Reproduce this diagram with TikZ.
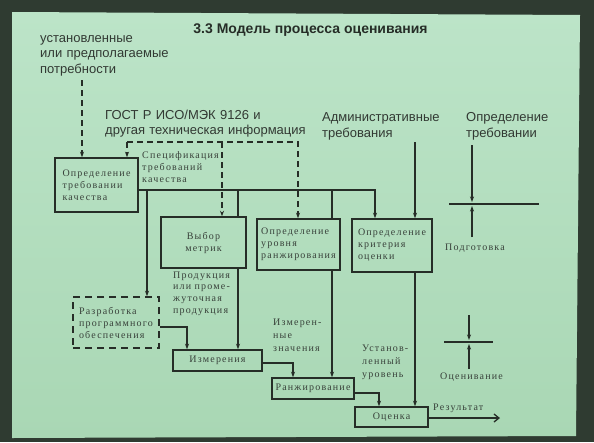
\documentclass[tikz,border=0pt]{standalone}
\usepackage{fontspec}
\setmainfont{Liberation Sans}
\newfontfamily\boxfont[LetterSpace=12]{Liberation Serif}
\usetikzlibrary{arrows.meta}
\definecolor{frame}{HTML}{2F3B31}
\definecolor{slidetop}{HTML}{BCE4C8}
\definecolor{slidebot}{HTML}{A9D7B4}
\definecolor{ink}{HTML}{262D27}
\definecolor{txt}{HTML}{323933}
\definecolor{btxt}{HTML}{38413A}
\begin{document}
\begin{tikzpicture}[x=1pt,y=-1pt,
  procbox/.style={draw=ink,line width=1.5pt,inner sep=2pt,text=btxt,font=\boxfont\fontsize{10}{12}\selectfont},
  lbl/.style={font=\fontsize{13}{15.5}\selectfont,text=txt,align=left,inner sep=0pt,anchor=base west},
  small/.style={font=\boxfont\fontsize{10}{12}\selectfont,text=btxt,align=left,inner sep=0pt,anchor=base west},
  conn/.style={draw=ink,line width=1.3pt},
  arr/.style={conn,-{Stealth[length=5.5pt,width=4pt]}},
  darr/.style={arr,dash pattern=on 6pt off 4pt},
  resarr/.style={conn,-{Straight Barb[length=5pt,width=8pt]}},
  crossln/.style={draw=ink,line width=1.4pt}
]
\useasboundingbox (0,0) rectangle (594,442);
\fill[frame] (0,0) rectangle (594,442);
\shade[top color=slidetop,bottom color=slidebot] (12,12) -- (580,15) -- (576,436) -- (12,438) -- cycle;

% title and outer labels
\node[anchor=base,font=\fontsize{14}{16}\selectfont\bfseries,text=ink,inner sep=0pt] (title) at (310.5,33) {3.3 Модель процесса оценивания};
\node[lbl,text width=170pt] (needs) at (40,42) {установленные\\или предполагаемые\\потребности};
\node[lbl,text width=230pt] (gost) at (105,119) {ГОСТ Р ИСО/МЭК 9126 и\\другая техническая информация};
\node[lbl,text width=130pt] (admin) at (322,121.5) {Административные\\требования};
\node[lbl,text width=100pt] (reqdef) at (466,121.5) {Определение\\требовании};

% process boxes
\node[procbox,minimum width=83pt,minimum height=54pt,align=left] (b1) at (96.5,185) {Определение\\требовании\\качества};
\node[procbox,minimum width=85pt,minimum height=51pt,align=center] (metr) at (203.5,242.5) {Выбор\\метрик};
\node[procbox,minimum width=83pt,minimum height=51pt,align=left] (rdef) at (298.5,244.5) {Определение\\уровня\\ранжирования};
\node[procbox,minimum width=80pt,minimum height=53pt,align=left] (crit) at (392,245.5) {Определение\\критерия\\оценки};
\node[procbox,dash pattern=on 7pt off 5pt,minimum width=86pt,minimum height=51pt,align=left] (dev) at (116,322.5) {Разработка\\программного\\обеспечения};
\node[procbox,minimum width=89pt,minimum height=21pt] (meas) at (217.5,360.5) {Измерения};
\node[procbox,minimum width=82pt,minimum height=21pt] (rank) at (313,388.5) {Ранжирование};
\node[procbox,minimum width=73pt,minimum height=20pt] (eval) at (391.5,417) {Оценка};

% inner labels
\node[small,text width=90pt] (spec) at (142,158) {Спецификация\\требований\\качества};
\node[small,text width=70pt,font=\boxfont\fontsize{10}{11.7}\selectfont] (prod) at (173,278) {Продукция\\или проме-\\жуточная\\продукция};
\node[small,text width=70pt,font=\boxfont\fontsize{10}{13}\selectfont] (mval) at (273,325) {Измерен-\\ные\\значения};
\node[small,text width=70pt,font=\boxfont\fontsize{10}{13}\selectfont] (setl) at (362,351) {Установ-\\ленный\\уровень};
\node[small] (prep) at (445,250) {Подготовка};
\node[small] (evl) at (440,379) {Оценивание};
\node[small] (res) at (433,410) {Результат};

% coordinates
\coordinate (nd) at (82,80);
\coordinate (s1) at (127,142);
\coordinate (s2) at (222,142);
\coordinate (s3) at (298,142);
\coordinate (hA) at (147,190);
\coordinate (hB) at (238,190);
\coordinate (hC) at (332,190);
\coordinate (hD) at (375,190);
\coordinate (adm) at (415,142);
\coordinate (dv) at (187,327);
\coordinate (ms) at (293,363);
\coordinate (rk) at (379,393);
\coordinate (rs) at (500,418);

% dashed connectors
\draw[darr] (nd) -- (nd |- b1.north);
\draw[darr] (s1) -- (s1 |- b1.north);
\draw[darr] (s1) -- (s3) -- (s3 |- rdef.north);
\draw[darr] (s2) -- (s2 |- metr.north);

% solid connectors
\draw[arr] (b1.east |- hA) -- (hD) -- (hD |- crit.north);
\draw[arr] (hA) -- (hA |- dev.north);
\draw[conn] (hB) -- (hB |- metr.north);
\draw[conn] (hC) -- (hC |- rdef.north);
\draw[arr] (metr.south -| hB) -- (meas.north -| hB);
\draw[arr] (rdef.south -| hC) -- (rank.north -| hC);
\draw[arr] (adm) -- (adm |- crit.north);
\draw[arr] (crit.south -| adm) -- (eval.north -| adm);
\draw[arr] (dev.east |- dv) -- (dv) -- (dv |- meas.north);
\draw[arr] (meas.east |- ms) -- (ms) -- (ms |- rank.north);
\draw[arr] (rank.east |- rk) -- (rk) -- (rk |- eval.north);
\draw[resarr] (eval.east |- rs) -- (rs);

% phase crosses
\coordinate (p1) at (472,145);
\coordinate (p2) at (472,202);
\coordinate (p3) at (472,237);
\coordinate (p4) at (472,206);
\coordinate (p5) at (449,204);
\coordinate (p6) at (539,204);
\draw[arr] (p1) -- (p2);
\draw[arr] (p3) -- (p4);
\draw[crossln] (p5) -- (p6);
\coordinate (q1) at (469,315);
\coordinate (q2) at (469,340);
\coordinate (q3) at (469,369);
\coordinate (q4) at (469,344);
\coordinate (q5) at (444,342);
\coordinate (q6) at (493,342);
\draw[arr] (q1) -- (q2);
\draw[arr] (q3) -- (q4);
\draw[crossln] (q5) -- (q6);
\end{tikzpicture}
\end{document}
